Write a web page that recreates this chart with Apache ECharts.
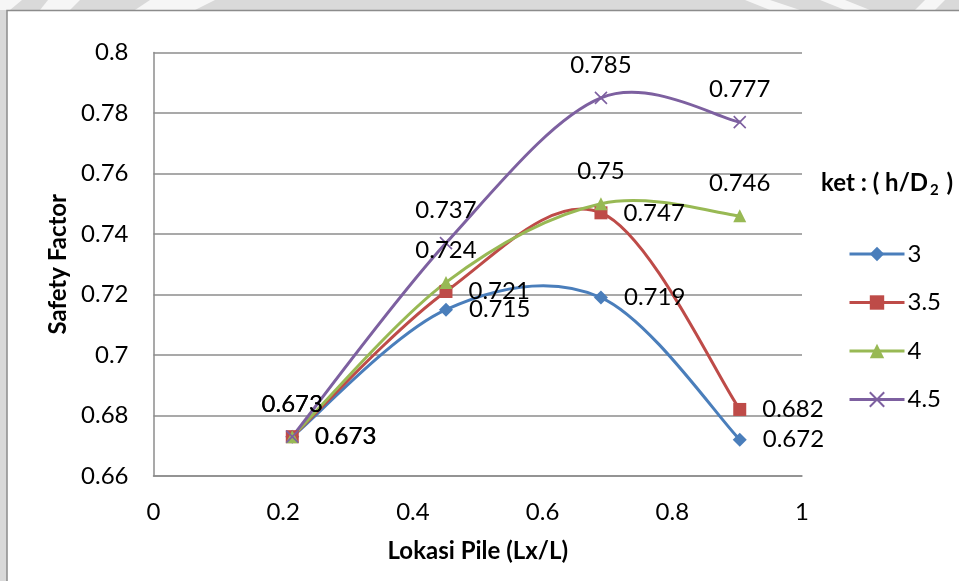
<!DOCTYPE html>
<html>
<head>
<meta charset="utf-8">
<style>
  html, body { margin: 0; padding: 0; background: #d9d9d9; }
  #chart { width: 959px; height: 581px; }
</style>
<script src="https://cdn.jsdelivr.net/npm/echarts@6/dist/echarts.min.js"></script>
</head>
<body>
<div id="chart"></div>
<script>
// Pile location along the slope (Lx/L)
const pileLocation = [0.214, 0.451, 0.69, 0.904];

// Safety factor for each h/D2 ratio
const sfH3 = [0.673, 0.715, 0.719, 0.672];
const sfH35 = [0.673, 0.721, 0.747, 0.682];
const sfH4 = [0.673, 0.724, 0.75, 0.746];
const sfH45 = [0.673, 0.737, 0.785, 0.777];

const seriesNames = ['3', '3.5', '4', '4.5'];
const seriesValues = [sfH3, sfH35, sfH4, sfH45];
const seriesColors = ['#4a7ebb', '#be4b48', '#98b954', '#7d60a0'];
const seriesSymbols = ['diamond', 'rect', 'triangle', 'path://M0,0L14,14M14,0L0,14'];
const labelSides = ['right', 'right', 'top', 'top'];

// Axis ticks
const xTicks = { min: 0, max: 1, step: 0.2 };
const yTicks = { min: 0.66, max: 0.8, step: 0.02 };

const FONT = 'Lato, "Open Sans", sans-serif';
const GRID_GRAY = '#8c8c8c';
const LINE_WIDTH = 3;

const chart = echarts.init(document.getElementById('chart'), null, { renderer: 'canvas' });

// Cardinal (Catmull-Rom style) spline through the points, one cubic per segment,
// with the end points repeated so the curve starts and ends along its chord.
function curveRenderer(values, color) {
  const n = pileLocation.length;
  const pt = (api, k) => {
    const j = Math.max(0, Math.min(n - 1, k));
    return api.coord([pileLocation[j], values[j]]);
  };
  return function (params, api) {
    const i = params.dataIndex;
    if (i >= n - 1) return null;
    const p0 = pt(api, i - 1);
    const p1 = pt(api, i);
    const p2 = pt(api, i + 1);
    const p3 = pt(api, i + 2);
    return {
      type: 'bezierCurve',
      shape: {
        x1: p1[0], y1: p1[1],
        x2: p2[0], y2: p2[1],
        cpx1: p1[0] + (p2[0] - p0[0]) / 6,
        cpy1: p1[1] + (p2[1] - p0[1]) / 6,
        cpx2: p2[0] - (p3[0] - p1[0]) / 6,
        cpy2: p2[1] - (p3[1] - p1[1]) / 6
      },
      style: { stroke: color, lineWidth: LINE_WIDTH, fill: null, lineCap: 'round' },
      silent: true
    };
  };
}

const series = [];
seriesNames.forEach((name, s) => {
  const points = pileLocation.map((x, i) => [x, seriesValues[s][i]]);
  const isCross = s === 3;
  series.push({
    name: 'curve ' + name,
    type: 'custom',
    data: points,
    encode: { x: 0, y: 1 },
    renderItem: curveRenderer(seriesValues[s], seriesColors[s]),
    clip: false,
    silent: true
  });
  series.push({
    name,
    type: 'line',
    data: points,
    symbol: seriesSymbols[s],
    symbolSize: isCross ? 12 : (s === 0 ? 14 : 13),
    showAllSymbol: true,
    lineStyle: { color: seriesColors[s], width: LINE_WIDTH, opacity: 0 },
    itemStyle: isCross
      ? { color: seriesColors[s], borderColor: seriesColors[s], borderWidth: 1.6 }
      : { color: seriesColors[s], borderWidth: 0 },
    label: {
      show: true,
      position: labelSides[s],
      distance: labelSides[s] === 'top' ? 14 : 16,
      color: '#000',
      fontFamily: FONT,
      fontSize: 24,
      formatter: p => String(p.value[1])
    },
    emphasis: { disabled: true }
  });
});

// Light streaks in the grey strip above the chart frame
const streaks = [
  [[0, 0], [22, 0], [10, 10], [0, 10]],
  [[48, 0], [80, 0], [70, 10], [40, 10]],
  [[150, 0], [215, 0], [195, 10], [135, 10]],
  [[745, 0], [770, 0], [800, 10], [770, 10]],
  [[820, 0], [845, 0], [870, 10], [845, 10]],
  [[925, 0], [945, 0], [935, 10], [915, 10]]
].map(pts => ({
  type: 'polygon',
  shape: { points: pts },
  style: { fill: '#ffffff', opacity: 0.75 },
  silent: true,
  z: -2
}));

const option = {
  backgroundColor: '#d9d9d9',
  animation: false,
  textStyle: { fontFamily: FONT },
  graphic: [
    ...streaks,
    {
      type: 'rect',
      shape: { x: 7, y: 10.5, width: 1000, height: 620 },
      style: { fill: '#ffffff', stroke: GRID_GRAY, lineWidth: 1.5 },
      silent: true,
      z: -1
    },
    {
      // Legend heading with subscripted "2"
      type: 'text',
      x: 821,
      y: 168,
      z: 10,
      style: {
        text: '{b|ket : ( h/D}{s|2}{b| )}',
        rich: {
          b: { fontFamily: FONT, fontWeight: 'bold', fontSize: 24, fill: '#000', lineHeight: 30, verticalAlign: 'middle', padding: [0, 1, 0, 0] },
          s: { fontFamily: FONT, fontWeight: 'bold', fontSize: 15, fill: '#000', lineHeight: 18, verticalAlign: 'bottom', padding: [0, 2, 0, 1] }
        }
      }
    }
  ],
  legend: {
    orient: 'vertical',
    left: 848,
    top: 242,
    padding: 0,
    itemWidth: 55,
    itemHeight: 18,
    itemGap: 24.5,
    lineStyle: { width: LINE_WIDTH },
    textStyle: { fontFamily: FONT, fontSize: 24, color: '#000', padding: [0, 0, 0, -2] },
    data: seriesNames.map((name, s) => ({
      name,
      lineStyle: { color: seriesColors[s], width: LINE_WIDTH, opacity: 1 }
    }))
  },
  grid: { left: 153.5, right: 157, top: 52.5, bottom: 105, containLabel: false },
  xAxis: {
    type: 'value',
    min: xTicks.min,
    max: xTicks.max,
    interval: xTicks.step,
    name: 'Lokasi Pile (Lx/L)',
    nameLocation: 'middle',
    nameGap: 63,
    nameTextStyle: { fontFamily: FONT, fontWeight: 'bold', fontSize: 24, color: '#000' },
    axisLine: { show: true, lineStyle: { color: GRID_GRAY, width: 1.5 } },
    axisTick: { show: false },
    splitLine: { show: false },
    axisLabel: {
      margin: 24,
      color: '#000',
      fontFamily: FONT,
      fontSize: 24,
      formatter: v => String(+v.toFixed(2))
    }
  },
  yAxis: {
    type: 'value',
    min: yTicks.min,
    max: yTicks.max,
    interval: yTicks.step,
    name: 'Safety Factor',
    nameLocation: 'middle',
    nameGap: 79,
    nameTextStyle: { fontFamily: FONT, fontWeight: 'bold', fontSize: 24, color: '#000' },
    axisLine: { show: true, lineStyle: { color: GRID_GRAY, width: 1.5 } },
    axisTick: { show: false },
    splitLine: { show: true, lineStyle: { color: GRID_GRAY, width: 1.5 } },
    axisLabel: {
      margin: 25,
      color: '#000',
      fontFamily: FONT,
      fontSize: 24,
      formatter: v => String(+v.toFixed(2))
    }
  },
  series
};

chart.setOption(option);
</script>
</body>
</html>
